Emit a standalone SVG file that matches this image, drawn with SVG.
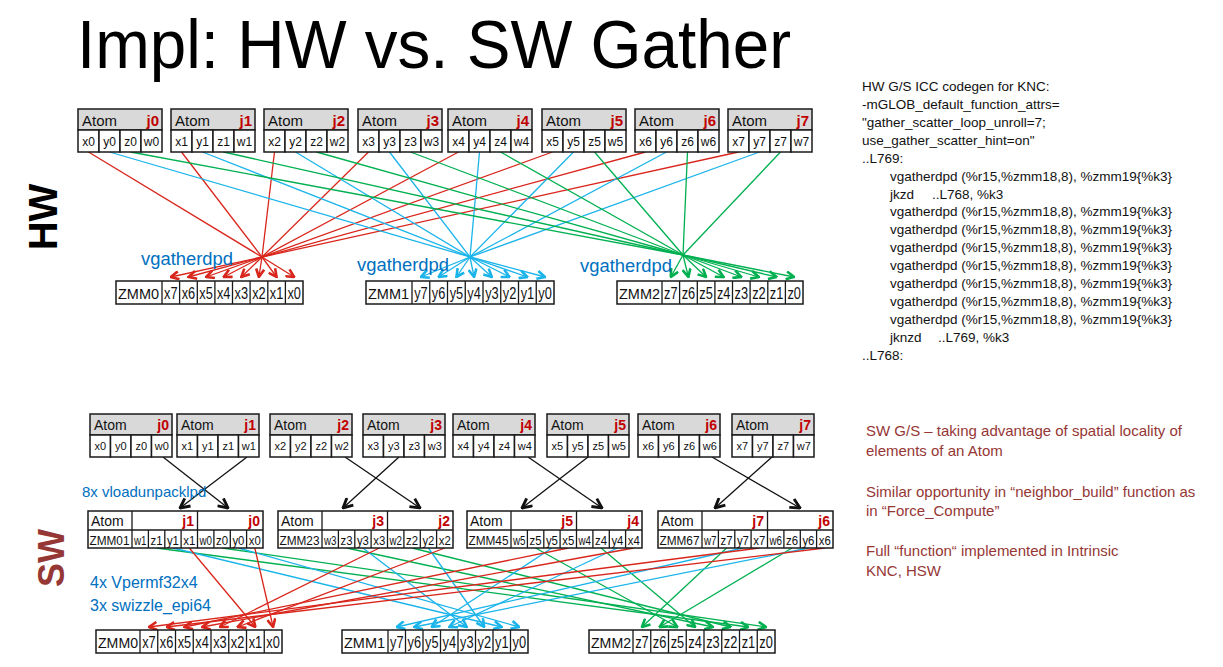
<svg xmlns="http://www.w3.org/2000/svg" width="1223" height="667" viewBox="0 0 1223 667">
<defs>
<style>
text{font-family:"Liberation Sans",Arial,sans-serif;}
.hd{fill:#d9d9d9;stroke:#1a1a1a;stroke-width:1.5;}
.cl{fill:#fff;stroke:#1a1a1a;stroke-width:1.5;}
.bx{fill:#fff;stroke:#1a1a1a;stroke-width:1.5;}
.sep{stroke:#1a1a1a;stroke-width:1.3;fill:none;}
.at{font-size:15px;fill:#111;}
.ats{font-size:14px;fill:#111;}
.jl{font-size:15px;font-weight:bold;fill:#c00000;text-anchor:end;}
.jls{font-size:14px;font-weight:bold;fill:#c00000;text-anchor:end;}
.ct{font-size:12px;fill:#111;text-anchor:middle;}
.cts{font-size:11px;fill:#111;text-anchor:middle;}
.zt{font-size:16px;fill:#111;text-anchor:middle;}
.zl{font-size:15px;fill:#111;}
.mt{font-size:13px;fill:#111;text-anchor:middle;}
.ml{font-size:12.5px;fill:#111;}
.lbl{fill:#0070c0;}
.code{font-size:13.5px;fill:#111;}
.note{font-size:15px;fill:#953735;}
.r{stroke:#d9261c;stroke-width:1.3;fill:none;}
.b{stroke:#1ab4ea;stroke-width:1.3;fill:none;}
.g{stroke:#00b050;stroke-width:1.3;fill:none;}
.k{stroke:#111;stroke-width:1.3;fill:none;}
.ra{marker-end:url(#mr);}
.ba{marker-end:url(#mb);}
.ga{marker-end:url(#mg);}
.ka{marker-end:url(#mk);}
</style>
<marker id="mr" viewBox="0 0 10 10" refX="9" refY="5" markerWidth="10" markerHeight="10" markerUnits="userSpaceOnUse" orient="auto"><path d="M1,1 L9,5 L1,9" fill="none" stroke="#d9261c" stroke-width="2.6"/></marker>
<marker id="mb" viewBox="0 0 10 10" refX="9" refY="5" markerWidth="10" markerHeight="10" markerUnits="userSpaceOnUse" orient="auto"><path d="M1,1 L9,5 L1,9" fill="none" stroke="#1ab4ea" stroke-width="2.6"/></marker>
<marker id="mg" viewBox="0 0 10 10" refX="9" refY="5" markerWidth="10" markerHeight="10" markerUnits="userSpaceOnUse" orient="auto"><path d="M1,1 L9,5 L1,9" fill="none" stroke="#00b050" stroke-width="2.6"/></marker>
<marker id="mk" viewBox="0 0 10 10" refX="9" refY="5" markerWidth="12" markerHeight="12" markerUnits="userSpaceOnUse" orient="auto"><path d="M1,1 L9,5 L1,9" fill="none" stroke="#111" stroke-width="2.4"/></marker>
</defs>
<rect width="1223" height="667" fill="#fff"/>

<text x="77" y="68" font-size="68" fill="#000" textLength="714" lengthAdjust="spacingAndGlyphs">Impl: HW vs. SW Gather</text>
<text transform="translate(57,217) rotate(-90)" font-size="40" font-weight="bold" fill="#000" text-anchor="middle">HW</text>
<text transform="translate(64,558) rotate(-90)" font-size="36" font-weight="bold" fill="#953735" text-anchor="middle">SW</text>

<g id="connectors">
<g class="r">
<line x1="88.5" y1="152" x2="262" y2="257"/><line x1="181.5" y1="152" x2="262" y2="257"/><line x1="274.5" y1="152" x2="262" y2="257"/><line x1="368.5" y1="152" x2="262" y2="257"/>
<line x1="458.5" y1="152" x2="262" y2="257"/><line x1="552.5" y1="152" x2="262" y2="257"/><line x1="645.5" y1="152" x2="262" y2="257"/><line x1="738.5" y1="152" x2="262" y2="257"/>
</g>
<g class="r ra">
<line x1="262" y1="257" x2="170.8" y2="277"/><line x1="262" y1="257" x2="188.4" y2="277"/><line x1="262" y1="257" x2="206.1" y2="277"/><line x1="262" y1="257" x2="223.7" y2="277"/>
<line x1="262" y1="257" x2="241.3" y2="277"/><line x1="262" y1="257" x2="258.9" y2="277"/><line x1="262" y1="257" x2="276.6" y2="277"/><line x1="262" y1="257" x2="294.2" y2="277"/>
</g>
<g class="b">
<line x1="109.5" y1="152" x2="470" y2="257"/><line x1="202.5" y1="152" x2="470" y2="257"/><line x1="295.5" y1="152" x2="470" y2="257"/><line x1="389.5" y1="152" x2="470" y2="257"/>
<line x1="479.5" y1="152" x2="470" y2="257"/><line x1="573.5" y1="152" x2="470" y2="257"/><line x1="666.5" y1="152" x2="470" y2="257"/><line x1="759.5" y1="152" x2="470" y2="257"/>
</g>
<g class="b ba">
<line x1="470" y1="257" x2="420.9" y2="277"/><line x1="470" y1="257" x2="438.6" y2="277"/><line x1="470" y1="257" x2="456.4" y2="277"/><line x1="470" y1="257" x2="474.1" y2="277"/>
<line x1="470" y1="257" x2="491.9" y2="277"/><line x1="470" y1="257" x2="509.6" y2="277"/><line x1="470" y1="257" x2="527.4" y2="277"/><line x1="470" y1="257" x2="545.1" y2="277"/>
</g>
<g class="g">
<line x1="130.5" y1="152" x2="683" y2="255"/><line x1="223.5" y1="152" x2="683" y2="255"/><line x1="316.5" y1="152" x2="683" y2="255"/><line x1="410.5" y1="152" x2="683" y2="255"/>
<line x1="500.5" y1="152" x2="683" y2="255"/><line x1="594.5" y1="152" x2="683" y2="255"/><line x1="687.5" y1="152" x2="683" y2="255"/><line x1="780.5" y1="152" x2="683" y2="255"/>
</g>
<g class="g ga">
<line x1="683" y1="255" x2="670.8" y2="277"/><line x1="683" y1="255" x2="688.4" y2="277"/><line x1="683" y1="255" x2="706.1" y2="277"/><line x1="683" y1="255" x2="723.7" y2="277"/>
<line x1="683" y1="255" x2="741.3" y2="277"/><line x1="683" y1="255" x2="758.9" y2="277"/><line x1="683" y1="255" x2="776.6" y2="277"/><line x1="683" y1="255" x2="794.2" y2="277"/>
</g>
<g class="k ka">
<line x1="163" y1="457" x2="228" y2="508"/><line x1="247" y1="457" x2="180" y2="508"/>
<line x1="345" y1="457" x2="420" y2="508"/><line x1="399" y1="457" x2="343" y2="508"/>
<line x1="528" y1="457" x2="602" y2="508"/><line x1="588" y1="457" x2="522" y2="508"/>
<line x1="712" y1="457" x2="800" y2="508"/><line x1="772" y1="457" x2="715" y2="508"/>
</g>
<g class="g ga">
<line x1="222.1" y1="548" x2="766.1" y2="627"/><line x1="156.6" y1="548" x2="748.4" y2="627"/><line x1="412.1" y1="548" x2="730.6" y2="627"/><line x1="346.6" y1="548" x2="712.9" y2="627"/>
<line x1="601.1" y1="548" x2="695.1" y2="627"/><line x1="535.6" y1="548" x2="677.4" y2="627"/><line x1="792.1" y1="548" x2="659.6" y2="627"/><line x1="726.6" y1="548" x2="641.9" y2="627"/>
</g>
<g class="b ba">
<line x1="238.4" y1="548" x2="519.25" y2="627"/><line x1="172.9" y1="548" x2="501.75" y2="627"/><line x1="428.4" y1="548" x2="484.25" y2="627"/><line x1="362.9" y1="548" x2="466.75" y2="627"/>
<line x1="617.4" y1="548" x2="449.25" y2="627"/><line x1="551.9" y1="548" x2="431.75" y2="627"/><line x1="808.4" y1="548" x2="414.25" y2="627"/><line x1="742.9" y1="548" x2="396.75" y2="627"/>
</g>
<g class="r ra">
<line x1="254.8" y1="548" x2="273.1" y2="627"/><line x1="189.3" y1="548" x2="255.4" y2="627"/><line x1="444.8" y1="548" x2="237.6" y2="627"/><line x1="379.3" y1="548" x2="219.9" y2="627"/>
<line x1="633.8" y1="548" x2="202.1" y2="627"/><line x1="568.3" y1="548" x2="184.4" y2="627"/><line x1="824.8" y1="548" x2="166.6" y2="627"/><line x1="759.3" y1="548" x2="148.9" y2="627"/>
</g>
</g>

<g id="hw-j0"><rect class="hd" x="78" y="109" width="84" height="21"/><rect class="cl" x="78" y="130" width="21" height="22"/><rect class="cl" x="99" y="130" width="21" height="22"/><rect class="cl" x="120" y="130" width="21" height="22"/><rect class="cl" x="141" y="130" width="21" height="22"/>
<text class="at" x="82" y="126">Atom</text><text class="jl" x="159" y="126">j0</text><text class="ct" x="88.5" y="146">x0</text><text class="ct" x="109.5" y="146">y0</text><text class="ct" x="130.5" y="146">z0</text><text class="ct" x="151.5" y="146">w0</text></g>
<g id="hw-j1"><rect class="hd" x="171" y="109" width="84" height="21"/><rect class="cl" x="171" y="130" width="21" height="22"/><rect class="cl" x="192" y="130" width="21" height="22"/><rect class="cl" x="213" y="130" width="21" height="22"/><rect class="cl" x="234" y="130" width="21" height="22"/>
<text class="at" x="175" y="126">Atom</text><text class="jl" x="252" y="126">j1</text><text class="ct" x="181.5" y="146">x1</text><text class="ct" x="202.5" y="146">y1</text><text class="ct" x="223.5" y="146">z1</text><text class="ct" x="244.5" y="146">w1</text></g>
<g id="hw-j2"><rect class="hd" x="264" y="109" width="84" height="21"/><rect class="cl" x="264" y="130" width="21" height="22"/><rect class="cl" x="285" y="130" width="21" height="22"/><rect class="cl" x="306" y="130" width="21" height="22"/><rect class="cl" x="327" y="130" width="21" height="22"/>
<text class="at" x="268" y="126">Atom</text><text class="jl" x="345" y="126">j2</text><text class="ct" x="274.5" y="146">x2</text><text class="ct" x="295.5" y="146">y2</text><text class="ct" x="316.5" y="146">z2</text><text class="ct" x="337.5" y="146">w2</text></g>
<g id="hw-j3"><rect class="hd" x="358" y="109" width="84" height="21"/><rect class="cl" x="358" y="130" width="21" height="22"/><rect class="cl" x="379" y="130" width="21" height="22"/><rect class="cl" x="400" y="130" width="21" height="22"/><rect class="cl" x="421" y="130" width="21" height="22"/>
<text class="at" x="362" y="126">Atom</text><text class="jl" x="439" y="126">j3</text><text class="ct" x="368.5" y="146">x3</text><text class="ct" x="389.5" y="146">y3</text><text class="ct" x="410.5" y="146">z3</text><text class="ct" x="431.5" y="146">w3</text></g>
<g id="hw-j4"><rect class="hd" x="448" y="109" width="84" height="21"/><rect class="cl" x="448" y="130" width="21" height="22"/><rect class="cl" x="469" y="130" width="21" height="22"/><rect class="cl" x="490" y="130" width="21" height="22"/><rect class="cl" x="511" y="130" width="21" height="22"/>
<text class="at" x="452" y="126">Atom</text><text class="jl" x="529" y="126">j4</text><text class="ct" x="458.5" y="146">x4</text><text class="ct" x="479.5" y="146">y4</text><text class="ct" x="500.5" y="146">z4</text><text class="ct" x="521.5" y="146">w4</text></g>
<g id="hw-j5"><rect class="hd" x="542" y="109" width="84" height="21"/><rect class="cl" x="542" y="130" width="21" height="22"/><rect class="cl" x="563" y="130" width="21" height="22"/><rect class="cl" x="584" y="130" width="21" height="22"/><rect class="cl" x="605" y="130" width="21" height="22"/>
<text class="at" x="546" y="126">Atom</text><text class="jl" x="623" y="126">j5</text><text class="ct" x="552.5" y="146">x5</text><text class="ct" x="573.5" y="146">y5</text><text class="ct" x="594.5" y="146">z5</text><text class="ct" x="615.5" y="146">w5</text></g>
<g id="hw-j6"><rect class="hd" x="635" y="109" width="84" height="21"/><rect class="cl" x="635" y="130" width="21" height="22"/><rect class="cl" x="656" y="130" width="21" height="22"/><rect class="cl" x="677" y="130" width="21" height="22"/><rect class="cl" x="698" y="130" width="21" height="22"/>
<text class="at" x="639" y="126">Atom</text><text class="jl" x="716" y="126">j6</text><text class="ct" x="645.5" y="146">x6</text><text class="ct" x="666.5" y="146">y6</text><text class="ct" x="687.5" y="146">z6</text><text class="ct" x="708.5" y="146">w6</text></g>
<g id="hw-j7"><rect class="hd" x="728" y="109" width="84" height="21"/><rect class="cl" x="728" y="130" width="21" height="22"/><rect class="cl" x="749" y="130" width="21" height="22"/><rect class="cl" x="770" y="130" width="21" height="22"/><rect class="cl" x="791" y="130" width="21" height="22"/>
<text class="at" x="732" y="126">Atom</text><text class="jl" x="809" y="126">j7</text><text class="ct" x="738.5" y="146">x7</text><text class="ct" x="759.5" y="146">y7</text><text class="ct" x="780.5" y="146">z7</text><text class="ct" x="801.5" y="146">w7</text></g>

<g id="hw-labels" class="lbl" font-size="17.5">
<text x="141" y="265" textLength="92" lengthAdjust="spacingAndGlyphs">vgatherdpd</text>
<text x="357" y="271" textLength="92" lengthAdjust="spacingAndGlyphs">vgatherdpd</text>
<text x="580" y="272" textLength="92" lengthAdjust="spacingAndGlyphs">vgatherdpd</text>
</g>

<g id="hw-zmm0"><rect class="bx" x="116" y="281" width="187" height="23"/>
<path class="sep" d="M162,281V304M179.6,281V304M197.3,281V304M214.9,281V304M232.5,281V304M250.1,281V304M267.8,281V304M285.4,281V304"/>
<text class="zl" x="118" y="299" textLength="41" lengthAdjust="spacingAndGlyphs">ZMM0</text>
<text class="zt" x="170.8" y="299" textLength="13.5" lengthAdjust="spacingAndGlyphs">x7</text><text class="zt" x="188.4" y="299" textLength="13.5" lengthAdjust="spacingAndGlyphs">x6</text><text class="zt" x="206.1" y="299" textLength="13.5" lengthAdjust="spacingAndGlyphs">x5</text><text class="zt" x="223.7" y="299" textLength="13.5" lengthAdjust="spacingAndGlyphs">x4</text><text class="zt" x="241.3" y="299" textLength="13.5" lengthAdjust="spacingAndGlyphs">x3</text><text class="zt" x="258.9" y="299" textLength="13.5" lengthAdjust="spacingAndGlyphs">x2</text><text class="zt" x="276.6" y="299" textLength="13.5" lengthAdjust="spacingAndGlyphs">x1</text><text class="zt" x="294.2" y="299" textLength="13.5" lengthAdjust="spacingAndGlyphs">x0</text></g>
<g id="hw-zmm1"><rect class="bx" x="366" y="281" width="188" height="23"/>
<path class="sep" d="M412,281V304M429.75,281V304M447.5,281V304M465.25,281V304M483,281V304M500.75,281V304M518.5,281V304M536.25,281V304"/>
<text class="zl" x="368" y="299" textLength="41" lengthAdjust="spacingAndGlyphs">ZMM1</text>
<text class="zt" x="420.9" y="299" textLength="13.5" lengthAdjust="spacingAndGlyphs">y7</text><text class="zt" x="438.6" y="299" textLength="13.5" lengthAdjust="spacingAndGlyphs">y6</text><text class="zt" x="456.4" y="299" textLength="13.5" lengthAdjust="spacingAndGlyphs">y5</text><text class="zt" x="474.1" y="299" textLength="13.5" lengthAdjust="spacingAndGlyphs">y4</text><text class="zt" x="491.9" y="299" textLength="13.5" lengthAdjust="spacingAndGlyphs">y3</text><text class="zt" x="509.6" y="299" textLength="13.5" lengthAdjust="spacingAndGlyphs">y2</text><text class="zt" x="527.4" y="299" textLength="13.5" lengthAdjust="spacingAndGlyphs">y1</text><text class="zt" x="545.1" y="299" textLength="13.5" lengthAdjust="spacingAndGlyphs">y0</text></g>
<g id="hw-zmm2"><rect class="bx" x="617" y="281" width="186" height="23"/>
<path class="sep" d="M662,281V304M679.6,281V304M697.3,281V304M714.9,281V304M732.5,281V304M750.1,281V304M767.8,281V304M785.4,281V304"/>
<text class="zl" x="619" y="299" textLength="41" lengthAdjust="spacingAndGlyphs">ZMM2</text>
<text class="zt" x="670.8" y="299" textLength="13.5" lengthAdjust="spacingAndGlyphs">z7</text><text class="zt" x="688.4" y="299" textLength="13.5" lengthAdjust="spacingAndGlyphs">z6</text><text class="zt" x="706.1" y="299" textLength="13.5" lengthAdjust="spacingAndGlyphs">z5</text><text class="zt" x="723.7" y="299" textLength="13.5" lengthAdjust="spacingAndGlyphs">z4</text><text class="zt" x="741.3" y="299" textLength="13.5" lengthAdjust="spacingAndGlyphs">z3</text><text class="zt" x="758.9" y="299" textLength="13.5" lengthAdjust="spacingAndGlyphs">z2</text><text class="zt" x="776.6" y="299" textLength="13.5" lengthAdjust="spacingAndGlyphs">z1</text><text class="zt" x="794.2" y="299" textLength="13.5" lengthAdjust="spacingAndGlyphs">z0</text></g>

<g id="hw-code" class="code">
<text x="862" y="91">HW G/S ICC codegen for KNC:</text>
<text x="862" y="109">-mGLOB_default_function_attrs=</text>
<text x="862" y="127">"gather_scatter_loop_unroll=7;</text>
<text x="862" y="145">use_gather_scatter_hint=on"</text>
<text x="862" y="163">..L769:</text>
<text x="890" y="181">vgatherdpd (%r15,%zmm18,8), %zmm19{%k3}</text>
<text y="199"><tspan x="890">jkzd</tspan><tspan x="932">..L768, %k3</tspan></text>
<text x="890" y="216">vgatherdpd (%r15,%zmm18,8), %zmm19{%k3}</text>
<text x="890" y="234">vgatherdpd (%r15,%zmm18,8), %zmm19{%k3}</text>
<text x="890" y="252">vgatherdpd (%r15,%zmm18,8), %zmm19{%k3}</text>
<text x="890" y="270">vgatherdpd (%r15,%zmm18,8), %zmm19{%k3}</text>
<text x="890" y="288">vgatherdpd (%r15,%zmm18,8), %zmm19{%k3}</text>
<text x="890" y="306">vgatherdpd (%r15,%zmm18,8), %zmm19{%k3}</text>
<text x="890" y="324">vgatherdpd (%r15,%zmm18,8), %zmm19{%k3}</text>
<text y="342"><tspan x="890">jknzd</tspan><tspan x="938">..L769, %k3</tspan></text>
<text x="862" y="360">..L768:</text>
</g>

<g id="sw-j0"><rect class="hd" x="90" y="414" width="82" height="21"/><rect class="cl" x="90" y="435" width="20.5" height="22"/><rect class="cl" x="110.5" y="435" width="20.5" height="22"/><rect class="cl" x="131" y="435" width="20.5" height="22"/><rect class="cl" x="151.5" y="435" width="20.5" height="22"/>
<text class="ats" x="94" y="430">Atom</text><text class="jls" x="169" y="430">j0</text><text class="cts" x="100.25" y="450">x0</text><text class="cts" x="120.75" y="450">y0</text><text class="cts" x="141.25" y="450">z0</text><text class="cts" x="161.75" y="450">w0</text></g>
<g id="sw-j1"><rect class="hd" x="177" y="414" width="82" height="21"/><rect class="cl" x="177" y="435" width="20.5" height="22"/><rect class="cl" x="197.5" y="435" width="20.5" height="22"/><rect class="cl" x="218" y="435" width="20.5" height="22"/><rect class="cl" x="238.5" y="435" width="20.5" height="22"/>
<text class="ats" x="181" y="430">Atom</text><text class="jls" x="256" y="430">j1</text><text class="cts" x="187.25" y="450">x1</text><text class="cts" x="207.75" y="450">y1</text><text class="cts" x="228.25" y="450">z1</text><text class="cts" x="248.75" y="450">w1</text></g>
<g id="sw-j2"><rect class="hd" x="270" y="414" width="82" height="21"/><rect class="cl" x="270" y="435" width="20.5" height="22"/><rect class="cl" x="290.5" y="435" width="20.5" height="22"/><rect class="cl" x="311" y="435" width="20.5" height="22"/><rect class="cl" x="331.5" y="435" width="20.5" height="22"/>
<text class="ats" x="274" y="430">Atom</text><text class="jls" x="349" y="430">j2</text><text class="cts" x="280.25" y="450">x2</text><text class="cts" x="300.75" y="450">y2</text><text class="cts" x="321.25" y="450">z2</text><text class="cts" x="341.75" y="450">w2</text></g>
<g id="sw-j3"><rect class="hd" x="363" y="414" width="82" height="21"/><rect class="cl" x="363" y="435" width="20.5" height="22"/><rect class="cl" x="383.5" y="435" width="20.5" height="22"/><rect class="cl" x="404" y="435" width="20.5" height="22"/><rect class="cl" x="424.5" y="435" width="20.5" height="22"/>
<text class="ats" x="367" y="430">Atom</text><text class="jls" x="442" y="430">j3</text><text class="cts" x="373.25" y="450">x3</text><text class="cts" x="393.75" y="450">y3</text><text class="cts" x="414.25" y="450">z3</text><text class="cts" x="434.75" y="450">w3</text></g>
<g id="sw-j4"><rect class="hd" x="453" y="414" width="82" height="21"/><rect class="cl" x="453" y="435" width="20.5" height="22"/><rect class="cl" x="473.5" y="435" width="20.5" height="22"/><rect class="cl" x="494" y="435" width="20.5" height="22"/><rect class="cl" x="514.5" y="435" width="20.5" height="22"/>
<text class="ats" x="457" y="430">Atom</text><text class="jls" x="532" y="430">j4</text><text class="cts" x="463.25" y="450">x4</text><text class="cts" x="483.75" y="450">y4</text><text class="cts" x="504.25" y="450">z4</text><text class="cts" x="524.75" y="450">w4</text></g>
<g id="sw-j5"><rect class="hd" x="547" y="414" width="82" height="21"/><rect class="cl" x="547" y="435" width="20.5" height="22"/><rect class="cl" x="567.5" y="435" width="20.5" height="22"/><rect class="cl" x="588" y="435" width="20.5" height="22"/><rect class="cl" x="608.5" y="435" width="20.5" height="22"/>
<text class="ats" x="551" y="430">Atom</text><text class="jls" x="626" y="430">j5</text><text class="cts" x="557.25" y="450">x5</text><text class="cts" x="577.75" y="450">y5</text><text class="cts" x="598.25" y="450">z5</text><text class="cts" x="618.75" y="450">w5</text></g>
<g id="sw-j6"><rect class="hd" x="638" y="414" width="82" height="21"/><rect class="cl" x="638" y="435" width="20.5" height="22"/><rect class="cl" x="658.5" y="435" width="20.5" height="22"/><rect class="cl" x="679" y="435" width="20.5" height="22"/><rect class="cl" x="699.5" y="435" width="20.5" height="22"/>
<text class="ats" x="642" y="430">Atom</text><text class="jls" x="717" y="430">j6</text><text class="cts" x="648.25" y="450">x6</text><text class="cts" x="668.75" y="450">y6</text><text class="cts" x="689.25" y="450">z6</text><text class="cts" x="709.75" y="450">w6</text></g>
<g id="sw-j7"><rect class="hd" x="732" y="414" width="82" height="21"/><rect class="cl" x="732" y="435" width="20.5" height="22"/><rect class="cl" x="752.5" y="435" width="20.5" height="22"/><rect class="cl" x="773" y="435" width="20.5" height="22"/><rect class="cl" x="793.5" y="435" width="20.5" height="22"/>
<text class="ats" x="736" y="430">Atom</text><text class="jls" x="811" y="430">j7</text><text class="cts" x="742.25" y="450">x7</text><text class="cts" x="762.75" y="450">y7</text><text class="cts" x="783.25" y="450">z7</text><text class="cts" x="803.75" y="450">w7</text></g>

<g id="sw-labels" class="lbl">
<text x="82" y="497" font-size="15">8x vloadunpacklpd</text>
<text x="90" y="588" font-size="16">4x Vpermf32x4</text>
<text x="90" y="611" font-size="16">3x swizzle_epi64</text>
</g>

<g id="sw-zmm01"><rect class="bx" x="88" y="511" width="175" height="37"/>
<path class="sep" d="M88,530H263M132,511V548M197.5,511V548M148.4,530V548M164.8,530V548M181.1,530V548M213.9,530V548M230.3,530V548M246.6,530V548"/>
<text class="ats" x="91" y="526">Atom</text><text class="jls" x="194" y="526">j1</text><text class="jls" x="260" y="526">j0</text>
<text class="ml" x="89.5" y="545" textLength="40" lengthAdjust="spacingAndGlyphs">ZMM01</text>
<text class="mt" x="140.2" y="545" textLength="12.5" lengthAdjust="spacingAndGlyphs">w1</text><text class="mt" x="156.6" y="545" textLength="12" lengthAdjust="spacingAndGlyphs">z1</text><text class="mt" x="172.9" y="545" textLength="12" lengthAdjust="spacingAndGlyphs">y1</text><text class="mt" x="189.3" y="545" textLength="12" lengthAdjust="spacingAndGlyphs">x1</text><text class="mt" x="205.7" y="545" textLength="12.5" lengthAdjust="spacingAndGlyphs">w0</text><text class="mt" x="222.1" y="545" textLength="12" lengthAdjust="spacingAndGlyphs">z0</text><text class="mt" x="238.4" y="545" textLength="12" lengthAdjust="spacingAndGlyphs">y0</text><text class="mt" x="254.8" y="545" textLength="12" lengthAdjust="spacingAndGlyphs">x0</text></g>
<g id="sw-zmm23"><rect class="bx" x="278" y="511" width="175" height="37"/>
<path class="sep" d="M278,530H453M322,511V548M387.5,511V548M338.4,530V548M354.8,530V548M371.1,530V548M403.9,530V548M420.3,530V548M436.6,530V548"/>
<text class="ats" x="281" y="526">Atom</text><text class="jls" x="384" y="526">j3</text><text class="jls" x="450" y="526">j2</text>
<text class="ml" x="279.5" y="545" textLength="40" lengthAdjust="spacingAndGlyphs">ZMM23</text>
<text class="mt" x="330.2" y="545" textLength="12.5" lengthAdjust="spacingAndGlyphs">w3</text><text class="mt" x="346.6" y="545" textLength="12" lengthAdjust="spacingAndGlyphs">z3</text><text class="mt" x="362.9" y="545" textLength="12" lengthAdjust="spacingAndGlyphs">y3</text><text class="mt" x="379.3" y="545" textLength="12" lengthAdjust="spacingAndGlyphs">x3</text><text class="mt" x="395.7" y="545" textLength="12.5" lengthAdjust="spacingAndGlyphs">w2</text><text class="mt" x="412.1" y="545" textLength="12" lengthAdjust="spacingAndGlyphs">z2</text><text class="mt" x="428.4" y="545" textLength="12" lengthAdjust="spacingAndGlyphs">y2</text><text class="mt" x="444.8" y="545" textLength="12" lengthAdjust="spacingAndGlyphs">x2</text></g>
<g id="sw-zmm45"><rect class="bx" x="467" y="511" width="175" height="37"/>
<path class="sep" d="M467,530H642M511,511V548M576.5,511V548M527.4,530V548M543.8,530V548M560.1,530V548M592.9,530V548M609.3,530V548M625.6,530V548"/>
<text class="ats" x="470" y="526">Atom</text><text class="jls" x="573" y="526">j5</text><text class="jls" x="639" y="526">j4</text>
<text class="ml" x="468.5" y="545" textLength="40" lengthAdjust="spacingAndGlyphs">ZMM45</text>
<text class="mt" x="519.2" y="545" textLength="12.5" lengthAdjust="spacingAndGlyphs">w5</text><text class="mt" x="535.6" y="545" textLength="12" lengthAdjust="spacingAndGlyphs">z5</text><text class="mt" x="551.9" y="545" textLength="12" lengthAdjust="spacingAndGlyphs">y5</text><text class="mt" x="568.3" y="545" textLength="12" lengthAdjust="spacingAndGlyphs">x5</text><text class="mt" x="584.7" y="545" textLength="12.5" lengthAdjust="spacingAndGlyphs">w4</text><text class="mt" x="601.1" y="545" textLength="12" lengthAdjust="spacingAndGlyphs">z4</text><text class="mt" x="617.4" y="545" textLength="12" lengthAdjust="spacingAndGlyphs">y4</text><text class="mt" x="633.8" y="545" textLength="12" lengthAdjust="spacingAndGlyphs">x4</text></g>
<g id="sw-zmm67"><rect class="bx" x="658" y="511" width="175" height="37"/>
<path class="sep" d="M658,530H833M702,511V548M767.5,511V548M718.4,530V548M734.8,530V548M751.1,530V548M783.9,530V548M800.3,530V548M816.6,530V548"/>
<text class="ats" x="661" y="526">Atom</text><text class="jls" x="764" y="526">j7</text><text class="jls" x="830" y="526">j6</text>
<text class="ml" x="659.5" y="545" textLength="40" lengthAdjust="spacingAndGlyphs">ZMM67</text>
<text class="mt" x="710.2" y="545" textLength="12.5" lengthAdjust="spacingAndGlyphs">w7</text><text class="mt" x="726.6" y="545" textLength="12" lengthAdjust="spacingAndGlyphs">z7</text><text class="mt" x="742.9" y="545" textLength="12" lengthAdjust="spacingAndGlyphs">y7</text><text class="mt" x="759.3" y="545" textLength="12" lengthAdjust="spacingAndGlyphs">x7</text><text class="mt" x="775.7" y="545" textLength="12.5" lengthAdjust="spacingAndGlyphs">w6</text><text class="mt" x="792.1" y="545" textLength="12" lengthAdjust="spacingAndGlyphs">z6</text><text class="mt" x="808.4" y="545" textLength="12" lengthAdjust="spacingAndGlyphs">y6</text><text class="mt" x="824.8" y="545" textLength="12" lengthAdjust="spacingAndGlyphs">x6</text></g>

<g id="sw-zmm0"><rect class="bx" x="96" y="630" width="186" height="23"/>
<path class="sep" d="M140,630V653M157.75,630V653M175.5,630V653M193.25,630V653M211,630V653M228.75,630V653M246.5,630V653M264.25,630V653"/>
<text class="zl" x="98" y="648" textLength="40" lengthAdjust="spacingAndGlyphs">ZMM0</text>
<text class="zt" x="148.9" y="648" textLength="13.5" lengthAdjust="spacingAndGlyphs">x7</text><text class="zt" x="166.6" y="648" textLength="13.5" lengthAdjust="spacingAndGlyphs">x6</text><text class="zt" x="184.4" y="648" textLength="13.5" lengthAdjust="spacingAndGlyphs">x5</text><text class="zt" x="202.1" y="648" textLength="13.5" lengthAdjust="spacingAndGlyphs">x4</text><text class="zt" x="219.9" y="648" textLength="13.5" lengthAdjust="spacingAndGlyphs">x3</text><text class="zt" x="237.6" y="648" textLength="13.5" lengthAdjust="spacingAndGlyphs">x2</text><text class="zt" x="255.4" y="648" textLength="13.5" lengthAdjust="spacingAndGlyphs">x1</text><text class="zt" x="273.1" y="648" textLength="13.5" lengthAdjust="spacingAndGlyphs">x0</text></g>
<g id="sw-zmm1"><rect class="bx" x="342" y="630" width="186" height="23"/>
<path class="sep" d="M388,630V653M405.5,630V653M423,630V653M440.5,630V653M458,630V653M475.5,630V653M493,630V653M510.5,630V653"/>
<text class="zl" x="344" y="648" textLength="41" lengthAdjust="spacingAndGlyphs">ZMM1</text>
<text class="zt" x="396.75" y="648" textLength="13.5" lengthAdjust="spacingAndGlyphs">y7</text><text class="zt" x="414.25" y="648" textLength="13.5" lengthAdjust="spacingAndGlyphs">y6</text><text class="zt" x="431.75" y="648" textLength="13.5" lengthAdjust="spacingAndGlyphs">y5</text><text class="zt" x="449.25" y="648" textLength="13.5" lengthAdjust="spacingAndGlyphs">y4</text><text class="zt" x="466.75" y="648" textLength="13.5" lengthAdjust="spacingAndGlyphs">y3</text><text class="zt" x="484.25" y="648" textLength="13.5" lengthAdjust="spacingAndGlyphs">y2</text><text class="zt" x="501.75" y="648" textLength="13.5" lengthAdjust="spacingAndGlyphs">y1</text><text class="zt" x="519.25" y="648" textLength="13.5" lengthAdjust="spacingAndGlyphs">y0</text></g>
<g id="sw-zmm2"><rect class="bx" x="589" y="630" width="186" height="23"/>
<path class="sep" d="M633,630V653M650.75,630V653M668.5,630V653M686.25,630V653M704,630V653M721.75,630V653M739.5,630V653M757.25,630V653"/>
<text class="zl" x="591" y="648" textLength="40" lengthAdjust="spacingAndGlyphs">ZMM2</text>
<text class="zt" x="641.9" y="648" textLength="13.5" lengthAdjust="spacingAndGlyphs">z7</text><text class="zt" x="659.6" y="648" textLength="13.5" lengthAdjust="spacingAndGlyphs">z6</text><text class="zt" x="677.4" y="648" textLength="13.5" lengthAdjust="spacingAndGlyphs">z5</text><text class="zt" x="695.1" y="648" textLength="13.5" lengthAdjust="spacingAndGlyphs">z4</text><text class="zt" x="712.9" y="648" textLength="13.5" lengthAdjust="spacingAndGlyphs">z3</text><text class="zt" x="730.6" y="648" textLength="13.5" lengthAdjust="spacingAndGlyphs">z2</text><text class="zt" x="748.4" y="648" textLength="13.5" lengthAdjust="spacingAndGlyphs">z1</text><text class="zt" x="766.1" y="648" textLength="13.5" lengthAdjust="spacingAndGlyphs">z0</text></g>

<g id="sw-notes" class="note">
<text x="866" y="436">SW G/S – taking advantage of spatial locality of</text>
<text x="866" y="456">elements of an Atom</text>
<text x="866" y="497">Similar opportunity in “neighbor_build” function as</text>
<text x="866" y="516">in “Force_Compute”</text>
<text x="866" y="556">Full “function“ implemented in Intrinsic</text>
<text x="866" y="576">KNC, HSW</text>
</g>
</svg>
